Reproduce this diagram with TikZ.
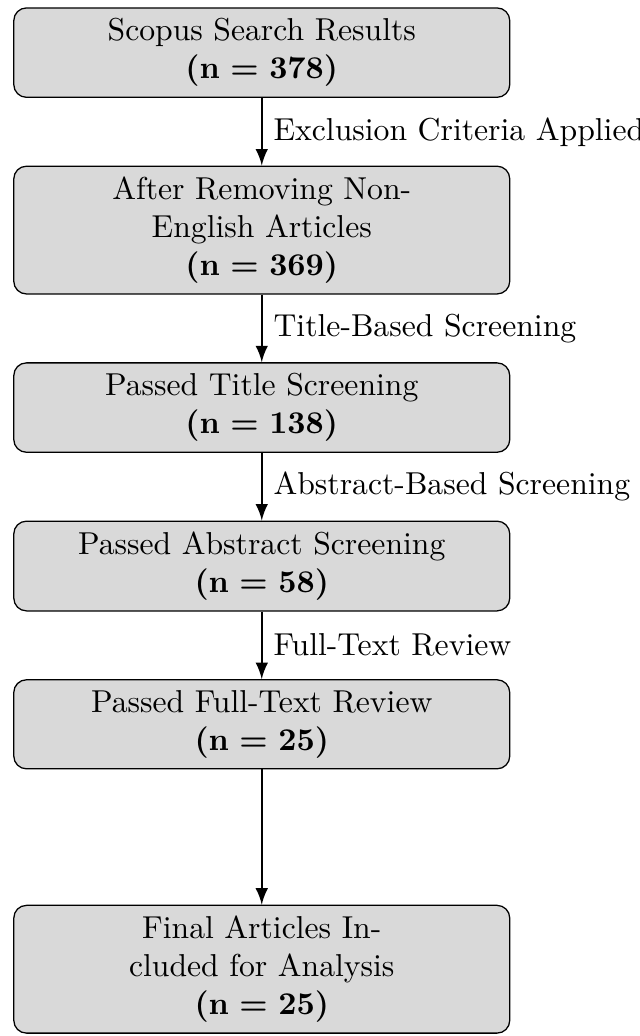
\documentclass[tikz,border=0pt]{standalone}
\usetikzlibrary{positioning,arrows.meta}
\begin{document}
\begin{tikzpicture}[node distance=0.75cm,>=latex]
\useasboundingbox (-82.6pt,16.6pt) rectangle (119.2pt,-310.3pt);
\tikzstyle{every node}=[draw,rectangle,rounded corners,fill=gray!30,text width=4.5cm,minimum width=5.5cm,align=center];
\draw (0,0) node (s1) {Scopus Search Results\\ \textbf{(n = 378)}};
\node (s2) [below=of s1] {After Removing Non-English Articles\\ \textbf{(n = 369)}};
\node (s3) [below=of s2] {Passed Title Screening\\ \textbf{(n = 138)}};
\node (s4) [below=of s3] {Passed Abstract Screening\\ \textbf{(n = 58)}};
\node (s5) [below=of s4] {Passed Full-Text Review\\ \textbf{(n = 25)}};
\node (s6) [below=1.5cm of s5] {Final Articles Included for Analysis\\ \textbf{(n = 25)}};

\tikzset{every node/.style={right}}
\draw (s1) edge [->,thick] node {Exclusion Criteria Applied} (s2);
\draw (s2) edge [->,thick] node {Title-Based Screening} (s3);
\draw (s3) edge [->,thick] node {Abstract-Based Screening} (s4);
\draw (s4) edge [->,thick] node {Full-Text Review} (s5);
\draw (s5) edge [->,thick] (s6);
\end{tikzpicture}
\end{document}
